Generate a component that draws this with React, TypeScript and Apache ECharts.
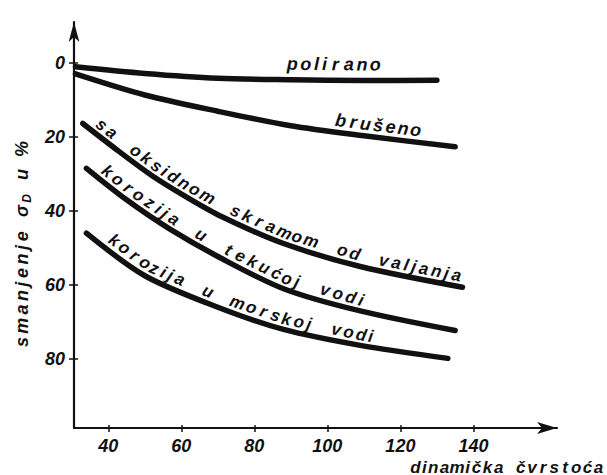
import React, { useEffect, useRef } from "react";
import * as echarts from "echarts";

// ---- data ----
const xTicks = [40, 60, 80, 100, 120, 140];
const yTicks = [0, 20, 40, 60, 80];

const curveNames = [
  "polirano",
  "brušeno",
  "sa oksidnom skramom od valjanja",
  "korozija u tekućoj vodi",
  "korozija u morskoj vodi",
];

const poliranoX = [31, 50, 70, 90, 110, 130];
const poliranoY = [1.1, 2.9, 4.2, 4.6, 4.8, 4.7];
const brusenoX = [31, 50, 70, 90, 110, 135];
const brusenoY = [3.0, 8.7, 13.1, 17.0, 19.7, 22.7];
const oksidX = [33, 43, 52, 61, 71, 88, 109, 137];
const oksidY = [16.4, 24.0, 30.5, 36.0, 41.5, 48.8, 55.0, 60.6];
const tekucaX = [34, 45, 57, 70, 88, 109, 135];
const tekucaY = [28.5, 37, 45, 52.3, 61.0, 67.0, 72.3];
const morskaX = [34, 50, 70, 88, 109, 133];
const morskaY = [46, 57.5, 66, 72, 76.3, 79.8];

const curvesX = [poliranoX, brusenoX, oksidX, tekucaX, morskaX];
const curvesY = [poliranoY, brusenoY, oksidY, tekucaY, morskaY];

const FONT = "'Liberation Sans', Arial, sans-serif";
const INK = "#111";

function interp(xs: number[], ys: number[], x: number) {
  if (x <= xs[0]) return ys[0];
  for (let i = 1; i < xs.length; i++) {
    if (x <= xs[i]) {
      const t = (x - xs[i - 1]) / (xs[i] - xs[i - 1]);
      return ys[i - 1] + t * (ys[i] - ys[i - 1]);
    }
  }
  return ys[ys.length - 1];
}

function charWeight(c: string) {
  if (c === " ") return 1.4;
  if ("ijl".includes(c)) return 0.6;
  if (c === "m") return 1.3;
  return 1;
}

type Glyph = { c: string; size?: number; shift?: number; weight?: number };

// place glyphs evenly (by weight) along a pixel polyline, offset to the "upper" side
function placeOnPolyline(pts: number[][], glyphs: Glyph[], offset: number, fontSize: number) {
  const cum = [0];
  for (let i = 1; i < pts.length; i++) {
    cum.push(cum[i - 1] + Math.hypot(pts[i][0] - pts[i - 1][0], pts[i][1] - pts[i - 1][1]));
  }
  const L = cum[cum.length - 1];
  const W = glyphs.reduce((a, g) => a + (g.weight ?? charWeight(g.c)), 0);
  const out: any[] = [];
  let acc = 0;
  glyphs.forEach((g) => {
    const w = g.weight ?? charWeight(g.c);
    const s = ((acc + w / 2) / W) * L;
    acc += w;
    if (g.c === " ") return;
    let k = 1;
    while (k < cum.length - 1 && cum[k] < s) k++;
    const a = pts[k - 1];
    const b = pts[k];
    const segLen = Math.max(1e-6, cum[k] - cum[k - 1]);
    const t = (s - cum[k - 1]) / segLen;
    const px = a[0] + t * (b[0] - a[0]);
    const py = a[1] + t * (b[1] - a[1]);
    const tx = (b[0] - a[0]) / segLen;
    const ty = (b[1] - a[1]) / segLen;
    const nx = ty;
    const ny = -tx;
    const off = offset - (g.shift ?? 0);
    out.push({
      type: "text",
      x: px + nx * off,
      y: py + ny * off,
      rotation: -Math.atan2(ty, tx),
      silent: true,
      style: {
        text: g.c,
        fontSize: g.size ?? fontSize,
        fontFamily: FONT,
        fontStyle: "italic",
        fontWeight: "bold",
        fill: INK,
        align: "center",
        verticalAlign: "middle",
      },
    });
  });
  return out;
}

function textAlongSeries(
  chart: any,
  seriesIndex: number,
  text: string,
  x0: number,
  x1: number,
  offset: number,
  fontSize: number
) {
  const xs = curvesX[seriesIndex];
  const ys = curvesY[seriesIndex];
  const pts: number[][] = [];
  for (let x = x0; x <= x1 + 1e-9; x += 0.25) {
    pts.push(chart.convertToPixel({ seriesIndex }, [x, interp(xs, ys, x)]));
  }
  return placeOnPolyline(pts, Array.from(text).map((c) => ({ c })), offset, fontSize);
}

export default function App() {
  const ref = useRef<HTMLDivElement>(null);

  useEffect(() => {
    if (!ref.current) return;
    const chart = echarts.init(ref.current, null, { renderer: "svg" });

    const labelFont = {
      fontSize: 18,
      fontFamily: FONT,
      fontStyle: "italic" as const,
      fontWeight: "bold" as const,
      color: INK,
    };

    const option: any = {
      animation: false,
      backgroundColor: "#ffffff",
      grid: { left: 74, right: 50, top: 22, bottom: 47, containLabel: false },
      xAxis: [
        {
          type: "value",
          min: 30.6,
          max: 162.9,
          position: "bottom",
          axisLine: {
            show: true,
            onZero: false,
            symbol: ["none", "arrow"],
            symbolSize: [9, 20],
            lineStyle: { color: INK, width: 2.2 },
          },
          axisTick: { show: true, customValues: xTicks, length: 4, lineStyle: { color: INK, width: 1.5 } },
          axisLabel: { customValues: xTicks, margin: 9, ...labelFont },
          splitLine: { show: false },
        },
        {
          type: "value",
          min: 30.6,
          max: 162.9,
          position: "bottom",
          offset: 0,
          axisLine: { show: false, onZero: false },
          axisTick: { show: true, inside: true, customValues: xTicks, length: 3, lineStyle: { color: INK, width: 1.5 } },
          axisLabel: { show: false },
          splitLine: { show: false },
        },
      ],
      yAxis: [
        {
          type: "value",
          inverse: true,
          min: -11,
          max: 98.6,
          position: "left",
          axisLine: {
            show: true,
            onZero: false,
            symbol: ["none", "arrow"],
            symbolSize: [8, 20],
            lineStyle: { color: INK, width: 2.2 },
          },
          axisTick: { show: true, customValues: yTicks, length: 5, lineStyle: { color: INK, width: 1.5 } },
          axisLabel: { customValues: yTicks, margin: 9, ...labelFont },
          splitLine: { show: false },
        },
        {
          type: "value",
          inverse: true,
          min: -11,
          max: 98.6,
          position: "left",
          offset: 0,
          axisLine: { show: false, onZero: false },
          axisTick: { show: true, inside: true, customValues: yTicks, length: 4, lineStyle: { color: INK, width: 1.5 } },
          axisLabel: { show: false },
          splitLine: { show: false },
        },
      ],
      series: curveNames.map((name, i) => ({
        name,
        type: "line",
        xAxisIndex: 0,
        yAxisIndex: 0,
        smooth: 0.3,
        symbol: "none",
        data: curvesX[i].map((x, j) => [x, curvesY[i][j]]),
        lineStyle: { color: INK, width: 5.5, cap: "round", join: "round" },
        emphasis: { disabled: true },
      })),
    };
    chart.setOption(option);

    const g: any[] = [];
    g.push(...textAlongSeries(chart, 0, curveNames[0], 88.5, 115, 16, 18));
    g.push(...textAlongSeries(chart, 1, curveNames[1], 101.5, 125.5, 12, 18));
    g.push(...textAlongSeries(chart, 2, curveNames[2], 35, 136.5, 10.5, 17));
    g.push(...textAlongSeries(chart, 3, curveNames[3], 36.5, 109.5, 10.5, 17));
    g.push(...textAlongSeries(chart, 4, curveNames[4], 38.5, 112.5, 10.5, 17));

    // y-axis name, reading bottom to top, letter-spaced like the reference
    const sp = (c: string): Glyph => (c === " " ? { c, weight: 0.8 } : { c });
    const yName: Glyph[] = [
      ...Array.from("smanjenje ").map(sp),
      { c: "σ" },
      { c: "D", size: 12, shift: 5, weight: 0.8 },
      ...Array.from(" u %").map(sp),
    ];
    g.push(...placeOnPolyline([[22, 349], [22, 142]], yName, 0, 18));

    // x-axis name
    const xName: Glyph[] = Array.from("dinamička čvrstoća").map((c) =>
      c === " " ? { c, weight: 1.0 } : { c }
    );
    g.push(...placeOnPolyline([[410, 467], [604, 467]], xName, 0, 17));

    chart.setOption({ graphic: g });

    return () => chart.dispose();
  }, []);

  return (
    <div
      ref={ref}
      style={{ position: "fixed", left: 0, top: 0, width: 607, height: 475, background: "#fff" }}
    />
  );
}
